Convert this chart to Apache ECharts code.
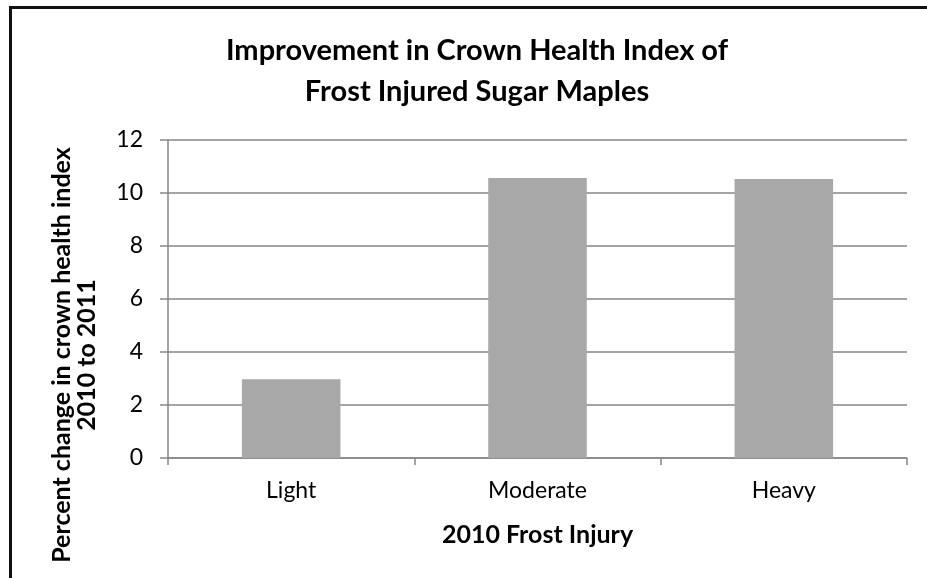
<!DOCTYPE html>
<html>
<head>
<meta charset="utf-8">
<script src="https://cdn.jsdelivr.net/npm/echarts@6/dist/echarts.min.js"></script>
<style>
  html, body { margin: 0; padding: 0; background: #fff; }
  #chart { width: 927px; height: 578px; }
</style>
</head>
<body>
<div id="chart"></div>
<script>
// Frost injury classes and the change in crown health index, 2010 -> 2011
const categories = ['Light', 'Moderate', 'Heavy'];
const percentChange = [2.97, 10.57, 10.53];
const yTicks = { min: 0, max: 12, interval: 2 };

const FONT = 'Lato';
const AXIS_GRAY = '#868686';

const chart = echarts.init(document.getElementById('chart'), null, { renderer: 'canvas' });

chart.setOption({
  backgroundColor: '#ffffff',
  animation: false,
  title: {
    text: 'Improvement in Crown Health Index of\nFrost Injured Sugar Maples',
    left: 472,
    top: 25,
    textAlign: 'center',
    textStyle: {
      fontFamily: FONT,
      fontWeight: 'bold',
      fontSize: 29,
      lineHeight: 41,
      color: '#000'
    }
  },
  grid: { left: 168, right: 20, top: 140, bottom: 120, containLabel: false },
  xAxis: {
    type: 'category',
    data: categories,
    name: '2010 Frost Injury',
    nameLocation: 'middle',
    nameGap: 64,
    nameTextStyle: { fontFamily: FONT, fontWeight: 'bold', fontSize: 25, color: '#000' },
    axisLine: { show: true, lineStyle: { color: AXIS_GRAY, width: 1.5 } },
    axisTick: { show: true, alignWithLabel: false, length: 7, lineStyle: { color: AXIS_GRAY, width: 1.5 } },
    axisLabel: { fontFamily: FONT, fontSize: 23, color: '#000', margin: 21 },
    splitLine: { show: false }
  },
  yAxis: {
    type: 'value',
    min: yTicks.min,
    max: yTicks.max,
    interval: yTicks.interval,
    axisLine: { show: true, lineStyle: { color: AXIS_GRAY, width: 1.5 } },
    axisTick: { show: true, length: 8, inside: false, lineStyle: { color: AXIS_GRAY, width: 1.5 } },
    axisLabel: { fontFamily: FONT, fontSize: 23, color: '#000', margin: 25 },
    splitLine: { show: true, lineStyle: { color: AXIS_GRAY, width: 1.5 } }
  },
  series: [{
    type: 'bar',
    data: percentChange,
    barCategoryGap: '60%',
    itemStyle: { color: '#a8a8a8' },
    emphasis: { disabled: true }
  }],
  graphic: [
    // outer frame (top and left edges)
    { type: 'rect', shape: { x: 9, y: 6, width: 918, height: 3 }, style: { fill: '#111' } },
    { type: 'rect', shape: { x: 9, y: 6, width: 3, height: 572 }, style: { fill: '#111' } },
    // y axis title
    {
      type: 'text',
      x: 74,
      y: 355,
      rotation: Math.PI / 2,
      style: {
        text: 'Percent change in crown health index\n2010 to 2011',
        font: 'bold 25px Lato',
        fill: '#000',
        align: 'center',
        verticalAlign: 'middle',
        lineHeight: 25
      }
    }
  ]
});
</script>
</body>
</html>
